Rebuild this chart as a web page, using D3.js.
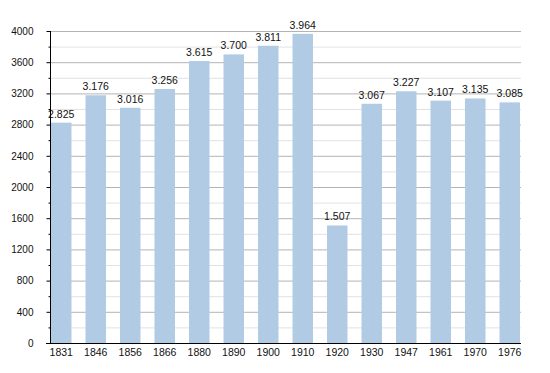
<!DOCTYPE html>
<html>
<head>
<meta charset="utf-8">
<script src="https://cdn.jsdelivr.net/npm/d3@7"></script>
<style>
  body { margin: 0; background: #fff; }
  text { font-family: "Liberation Sans", Arial, sans-serif; fill: #111; }
</style>
</head>
<body>
<svg id="chart"></svg>
<script>
  const width = 550;
  const height = 373;

  const years = ["1831", "1846", "1856", "1866", "1880", "1890", "1900", "1910", "1920", "1930", "1947", "1961", "1970", "1976"];
  const population = [2825, 3176, 3016, 3256, 3615, 3700, 3811, 3964, 1507, 3067, 3227, 3107, 3135, 3085];
  const yTicks = [0, 400, 800, 1200, 1600, 2000, 2400, 2800, 3200, 3600, 4000];
  const yMinorTicks = [200, 600, 1000, 1400, 1800, 2200, 2600, 3000, 3400, 3800];

  const plotLeft = 50, plotRight = 521, plotTop = 31, plotBottom = 343;

  const svg = d3.select("#chart")
    .attr("width", width)
    .attr("height", height);

  const x = d3.scaleBand()
    .domain(years)
    .range([plotLeft + 1, plotRight - 1])
    .paddingInner(0.406)
    .paddingOuter(0);

  const y = d3.scaleLinear()
    .domain([0, 4000])
    .range([plotBottom, plotTop]);

  // grid lines, light ones first
  svg.append("g")
    .selectAll("line")
    .data(yMinorTicks)
    .enter().append("line")
    .attr("x1", plotLeft).attr("x2", plotRight)
    .attr("y1", d => y(d) + 0.5).attr("y2", d => y(d) + 0.5)
    .style("stroke", "#e2e2e2");

  svg.append("g")
    .selectAll("line")
    .data(yTicks.filter(d => d > 0))
    .enter().append("line")
    .attr("x1", plotLeft).attr("x2", plotRight)
    .attr("y1", d => y(d) + 0.5).attr("y2", d => y(d) + 0.5)
    .style("stroke", "#b4b4b4");

  // bars
  svg.append("g")
    .selectAll("rect")
    .data(population)
    .enter().append("rect")
    .attr("x", (d, i) => x(years[i]))
    .attr("y", d => y(d))
    .attr("width", x.bandwidth())
    .attr("height", d => plotBottom - y(d))
    .style("fill", "#b1cbe4");

  // value labels, dot as thousands separator
  const fmt = d => d3.format(",")(d).replace(",", ".");
  svg.append("g")
    .selectAll("text")
    .data(population)
    .enter().append("text")
    .attr("x", (d, i) => x(years[i]) + x.bandwidth() / 2)
    .attr("y", d => y(d) - 5)
    .attr("text-anchor", "middle")
    .style("font-size", "10.5px")
    .text(fmt);

  // y axis
  const yAxis = d3.axisLeft(y)
    .tickValues(yTicks)
    .tickFormat(d3.format("d"))
    .tickSize(4)
    .tickPadding(13);
  const ya = svg.append("g")
    .attr("transform", `translate(${plotLeft + 0.5},0)`)
    .call(yAxis);
  ya.select(".domain").remove();
  ya.selectAll("text").style("font-size", "10px").attr("fill", "#111");
  ya.append("line")
    .attr("y1", plotTop).attr("y2", plotBottom)
    .style("stroke", "#000");
  ya.selectAll(".minor")
    .data(yMinorTicks)
    .enter().append("line")
    .attr("class", "minor")
    .attr("x1", -2).attr("x2", 0)
    .attr("y1", d => y(d) + 0.5).attr("y2", d => y(d) + 0.5)
    .style("stroke", "#000");

  // x axis
  const xAxis = d3.axisBottom(x)
    .tickSize(0)
    .tickPadding(5);
  const xa = svg.append("g")
    .attr("transform", `translate(0,${plotBottom + 0.5})`)
    .call(xAxis);
  xa.select(".domain").remove();
  xa.append("line")
    .attr("x1", plotLeft - 4).attr("x2", plotRight)
    .style("stroke", "#000");
  xa.selectAll("text").style("font-size", "10.5px").attr("fill", "#111");
</script>
</body>
</html>
